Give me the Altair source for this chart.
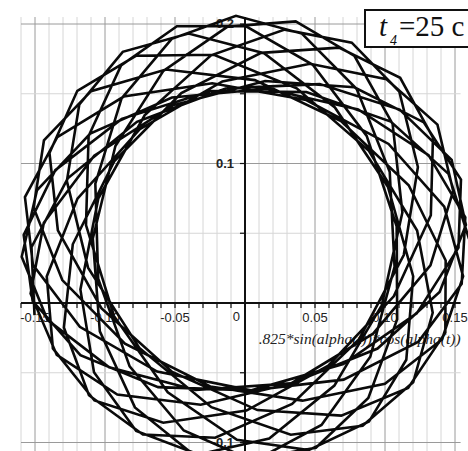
import altair as alt
import numpy as np
import pandas as pd

# ---- trajectory of the load (projection on the horizontal plane) ----
centre = [0.0, 0.046]          # centre of the orbit, m
semi_axes = [0.160, 0.108]     # outer / inner radius of the orbit band, m
revolutions = 13               # number of swings shown up to t4
precession_deg = 200           # rotation of the swing plane over that time
samples_per_rev = 15           # solver output points per swing

# ---- axes ----
x_major = [-0.15, -0.10, -0.05, 0.05, 0.10, 0.15]
x_labels = ["-0.15", "-0.10", "-0.05", "0.05", "0.10", "0.15"]
y_grid = [-0.10, -0.05, 0.05, 0.10, 0.15, 0.20]
y_major = [-0.10, 0.10, 0.20]
y_labels = ["-0.1", "0.1", "0.2"]
x_limits = [-0.160, 0.154]
y_top = 0.205
x_title = ".825*sin(alpha(t))*cos(alpha(t))"

# pixel window of the plot
W, H = 468, 451
xdom = [-245 / 1400, (W - 245) / 1400]
ydom = [-(H - 303) / 1395, 303 / 1395]
xs = alt.Scale(domain=xdom, nice=False, zero=False)
ys = alt.Scale(domain=ydom, nice=False, zero=False)

# trajectory points
n = revolutions * samples_per_rev
t = np.linspace(0, 2 * np.pi * revolutions, n + 1)
psi = np.deg2rad(precession_deg) * t / t[-1]
a, b = semi_axes
ex, ey = a * np.cos(t), b * np.sin(t)
traj = pd.DataFrame({
    "i": np.arange(n + 1),
    "x": centre[0] + ex * np.cos(psi) - ey * np.sin(psi),
    "y": centre[1] + ex * np.sin(psi) + ey * np.cos(psi),
})

# grid tables
minor_x = [round(v, 2) for v in np.arange(-0.16, 0.1501, 0.01) if abs(v) > 1e-9]
vgrid = pd.DataFrame({
    "x": minor_x,
    "y1": y_top,
    "y2": ydom[0] - 0.01,
    "kind": ["major" if abs(round(v / 0.05) * 0.05 - v) < 1e-9 else "minor" for v in minor_x],
})
hgrid = pd.DataFrame({
    "y": y_grid,
    "x1": x_limits[0],
    "x2": x_limits[1],
    "kind": ["major" if v in y_major else "minor" for v in y_grid],
})
grid_colors = alt.Scale(domain=["major", "minor"], range=["#9a9a9a", "#d6d6d6"])

vlines = alt.Chart(vgrid).mark_rule(strokeWidth=1, clip=True).encode(
    x=alt.X("x:Q", scale=xs, axis=None),
    y=alt.Y("y1:Q", scale=ys, axis=None),
    y2="y2:Q",
    color=alt.Color("kind:N", scale=grid_colors, legend=None),
)
hlines = alt.Chart(hgrid).mark_rule(strokeWidth=1, clip=True).encode(
    x=alt.X("x1:Q", scale=xs, axis=None),
    x2="x2:Q",
    y=alt.Y("y:Q", scale=ys, axis=None),
    color=alt.Color("kind:N", scale=grid_colors, legend=None),
)

# axis lines through the origin
xaxis = alt.Chart(pd.DataFrame({"x1": [x_limits[0]], "x2": [x_limits[1]], "y": [0.0]})).mark_rule(
    color="#111", strokeWidth=2
).encode(x=alt.X("x1:Q", scale=xs, axis=None), x2="x2:Q", y=alt.Y("y:Q", scale=ys, axis=None))
yaxis = alt.Chart(pd.DataFrame({"x": [0.0], "y1": [y_top], "y2": [ydom[0] - 0.01]})).mark_rule(
    color="#111", strokeWidth=2, clip=True
).encode(x=alt.X("x:Q", scale=xs, axis=None), y=alt.Y("y1:Q", scale=ys, axis=None), y2="y2:Q")

tick_x = [round(v, 2) for v in np.arange(-0.16, 0.1501, 0.01)]
xticks = alt.Chart(pd.DataFrame({"x": tick_x, "y1": 0.0, "y2": -0.0036})).mark_rule(
    color="#111", strokeWidth=1.2
).encode(x=alt.X("x:Q", scale=xs, axis=None), y=alt.Y("y1:Q", scale=ys, axis=None), y2="y2:Q")
yticks = alt.Chart(pd.DataFrame({"y": y_grid, "x1": -0.0036, "x2": 0.0})).mark_rule(
    color="#111", strokeWidth=1.2
).encode(x=alt.X("x1:Q", scale=xs, axis=None), x2="x2:Q", y=alt.Y("y:Q", scale=ys, axis=None))

xlab = alt.Chart(pd.DataFrame({"x": x_major, "y": 0.0, "label": x_labels})).mark_text(
    font="Liberation Sans", fontSize=13, color="#222", baseline="top", dy=9
).encode(x=alt.X("x:Q", scale=xs, axis=None), y=alt.Y("y:Q", scale=ys, axis=None), text="label:N")
zero_lab = alt.Chart(pd.DataFrame({"x": [0.0], "y": [0.0], "label": ["0"]})).mark_text(
    font="Liberation Sans", fontSize=13, color="#222", baseline="top", align="right", dx=-5, dy=8
).encode(x=alt.X("x:Q", scale=xs, axis=None), y=alt.Y("y:Q", scale=ys, axis=None), text="label:N")
ylab = alt.Chart(pd.DataFrame({"x": 0.0, "y": y_major, "label": y_labels})).mark_text(
    font="Liberation Sans", fontSize=13, fontWeight="bold", color="#222", baseline="middle",
    align="right", dx=-11
).encode(x=alt.X("x:Q", scale=xs, axis=None), y=alt.Y("y:Q", scale=ys, axis=None), text="label:N")
xtitle = alt.Chart(pd.DataFrame({"x": [x_limits[1]], "y": [0.0], "label": [x_title]})).mark_text(
    font="Liberation Serif", fontSize=15.5, fontStyle="italic", color="#222", baseline="top",
    align="right", dy=29
).encode(x=alt.X("x:Q", scale=xs, axis=None), y=alt.Y("y:Q", scale=ys, axis=None), text="label:N")

curve = alt.Chart(traj).mark_line(color="#0a0a0a", strokeWidth=2.6, clip=True,
                                  strokeJoin="miter").encode(
    x=alt.X("x:Q", scale=xs, axis=None),
    y=alt.Y("y:Q", scale=ys, axis=None),
    order="i:Q",
)

# time stamp box
box = alt.Chart(pd.DataFrame({"k": [0]})).mark_rect(
    fill="white", stroke="#111", strokeWidth=2
).encode(x=alt.value(365), x2=alt.value(472), y=alt.value(10), y2=alt.value(47))
t_txt = alt.Chart(pd.DataFrame({"s": ["t"]})).mark_text(
    font="Liberation Serif", fontSize=29, fontStyle="italic", align="left", baseline="alphabetic",
    color="#111"
).encode(x=alt.value(379), y=alt.value(36), text="s:N")
sub_txt = alt.Chart(pd.DataFrame({"s": ["4"]})).mark_text(
    font="Liberation Serif", fontSize=14, fontStyle="italic", align="left", baseline="alphabetic",
    color="#111"
).encode(x=alt.value(390), y=alt.value(45), text="s:N")
val_txt = alt.Chart(pd.DataFrame({"s": ["=25 c"]})).mark_text(
    font="Liberation Serif", fontSize=29, align="left", baseline="alphabetic", color="#111"
).encode(x=alt.value(399), y=alt.value(36), text="s:N")

chart = alt.layer(
    vlines, hlines, xaxis, yaxis, xticks, yticks, xlab, zero_lab, ylab, xtitle, curve,
    box, t_txt, sub_txt, val_txt
).properties(
    width=W, height=H, autosize=alt.AutoSizeParams(type="none"), padding=0,
    background="white"
).configure_view(stroke=None)

chart.save("out.html", embed_options={"renderer": "svg", "actions": False})
